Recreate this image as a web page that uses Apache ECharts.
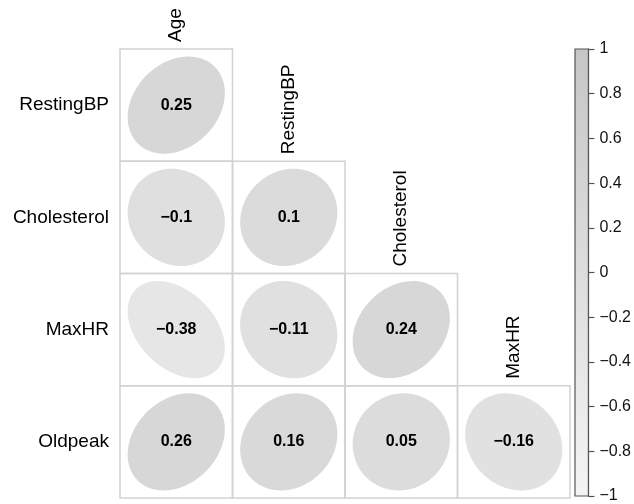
<!DOCTYPE html>
<html><head><meta charset="utf-8">
<script src="https://cdn.jsdelivr.net/npm/echarts@6/dist/echarts.min.js"></script>
<style>html,body{margin:0;padding:0;background:#fff}#c{width:634px;height:504px}</style>
</head><body><div id="c"></div>
<script>
var rows = ['RestingBP', 'Cholesterol', 'MaxHR', 'Oldpeak'];
var cols = ['Age', 'RestingBP', 'Cholesterol', 'MaxHR'];
var corrRestingBP = [0.25];
var corrCholesterol = [-0.1, 0.1];
var corrMaxHR = [-0.38, -0.11, 0.24];
var corrOldpeak = [0.26, 0.16, 0.05, -0.16];
var legendTicks = [1, 0.8, 0.6, 0.4, 0.2, 0, -0.2, -0.4, -0.6, -0.8, -1];
var paletteLow = '#f4f4f4';
var paletteHigh = '#c6c6c6';

var corrRows = [corrRestingBP, corrCholesterol, corrMaxHR, corrOldpeak];
var cellData = [];
corrRows.forEach(function (vals, r) {
  vals.forEach(function (v, c) { cellData.push([c, r, v]); });
});
var headerData = cols.map(function (name, j) { return [j, j, name]; });

function fmt(v) {
  var s = String(v);
  return v < 0 ? '\u2212' + s.slice(1) : s;
}
var FONT = '"Liberation Sans", Arial, Helvetica, sans-serif';

var chart = echarts.init(document.getElementById('c'), null, { renderer: 'canvas' });
chart.setOption({
  animation: false,
  textStyle: { fontFamily: FONT },
  grid: [
    { left: 120, top: 49, width: 450, height: 449 },
    { left: 575, top: 49, width: 19, height: 448 }
  ],
  xAxis: [
    { type: 'category', data: cols, gridIndex: 0, show: false },
    { type: 'category', data: ['bar'], gridIndex: 1, show: false }
  ],
  yAxis: [
    { type: 'category', data: rows, inverse: true, gridIndex: 0,
      axisLine: { show: false }, axisTick: { show: false }, splitLine: { show: false },
      axisLabel: { fontSize: 19, color: '#000', margin: 11, fontFamily: FONT } },
    { type: 'value', gridIndex: 1, min: -1, max: 1, interval: 0.2, position: 'right',
      axisLine: { show: true, lineStyle: { color: '#555', width: 1.2 } },
      axisTick: { show: true, length: 6, lineStyle: { color: '#555', width: 1.2 } },
      splitLine: { show: false },
      axisLabel: { fontSize: 16, color: '#111', margin: 11, fontFamily: FONT,
        formatter: function (v) { return fmt(Math.round(v * 10) / 10); } } }
  ],
  visualMap: {
    show: false, type: 'continuous', min: -1, max: 1, dimension: 2, seriesIndex: 0,
    inRange: { color: [paletteLow, paletteHigh] }
  },
  series: [
    {
      type: 'custom', xAxisIndex: 0, yAxisIndex: 0, data: cellData,
      renderItem: function (params, api) {
        var c = api.coord([api.value(0), api.value(1)]);
        var sz = api.size([1, 1]);
        var r = api.value(2);
        var s = sz[0] * 0.432;
        var d = Math.acos(r);
        var pts = [];
        for (var i = 0; i < 120; i++) {
          var t = i / 120 * Math.PI * 2;
          pts.push([c[0] + s * Math.cos(t + d / 2), c[1] - s * Math.cos(t - d / 2)]);
        }
        return {
          type: 'group',
          children: [
            { type: 'rect', shape: { x: c[0] - sz[0] / 2, y: c[1] - sz[1] / 2, width: sz[0], height: sz[1] },
              style: { fill: 'none', stroke: '#d2d2d2', lineWidth: 1.5 } },
            { type: 'polygon', shape: { points: pts }, style: { fill: api.visual('color') } },
            { type: 'text', x: c[0], y: c[1],
              style: { text: fmt(r), font: 'bold 16px ' + FONT, fill: '#000', align: 'center', verticalAlign: 'middle' } }
          ]
        };
      }
    },
    {
      type: 'custom', xAxisIndex: 0, yAxisIndex: 0, data: headerData,
      renderItem: function (params, api) {
        var c = api.coord([api.value(0), api.value(1)]);
        var sz = api.size([1, 1]);
        return {
          type: 'text', x: c[0], y: c[1] - sz[1] / 2 - 7, rotation: Math.PI / 2,
          style: { text: cols[api.value(0)], font: '19px ' + FONT, fill: '#000', align: 'left', verticalAlign: 'middle' }
        };
      }
    },
    {
      type: 'custom', xAxisIndex: 1, yAxisIndex: 1, data: [[0, 1, -1]],
      renderItem: function (params, api) {
        var top = api.coord([0, api.value(1)]);
        var bot = api.coord([0, api.value(2)]);
        var w = api.size([1, 0])[0];
        return {
          type: 'rect', shape: { x: top[0] - w / 2, y: top[1], width: w, height: bot[1] - top[1] },
          style: {
            fill: new echarts.graphic.LinearGradient(0, 0, 0, 1, [
              { offset: 0, color: paletteHigh }, { offset: 1, color: paletteLow }
            ]),
            stroke: '#555', lineWidth: 1.2
          }
        };
      }
    }
  ]
});
</script></body></html>
